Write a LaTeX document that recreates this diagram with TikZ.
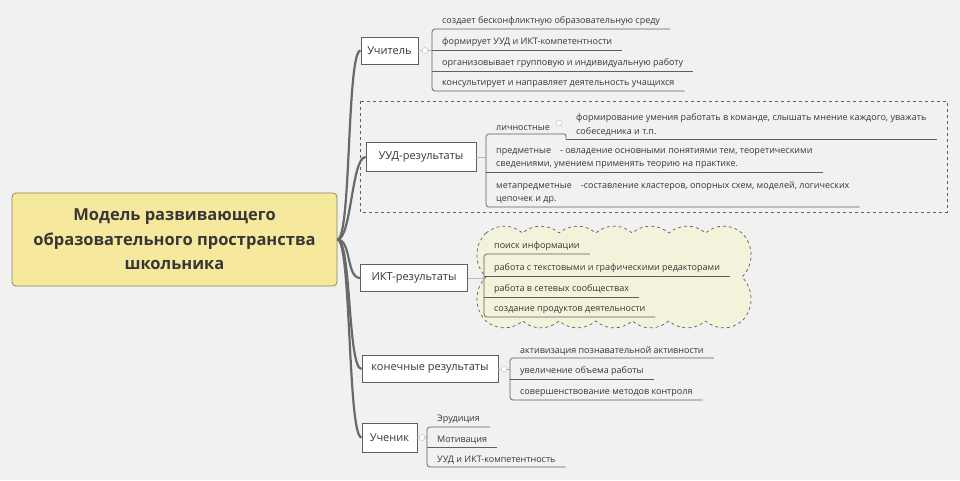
\documentclass[tikz,border=0pt]{standalone}
\usepackage{fontspec}
\setmainfont{Open Sans}
\usepackage{xcolor}
\definecolor{paper}{RGB}{241,241,241}
\definecolor{rootyellow}{RGB}{246,233,158}
\definecolor{rootedge}{RGB}{140,130,95}
\definecolor{inkgrey}{RGB}{55,55,55}
\definecolor{linegrey}{RGB}{95,95,95}
\definecolor{trunkgrey}{RGB}{105,105,105}
\definecolor{stubblue}{RGB}{170,190,205}
\definecolor{cloudcream}{RGB}{243,243,220}

\begin{document}
\begin{tikzpicture}[x=1pt, y=-1pt,
  root/.style={rectangle, rounded corners=4pt, draw=rootedge, fill=rootyellow, line width=0.8pt, minimum width=325pt, minimum height=93pt, align=center, text=inkgrey, font=\fontsize{16.5}{24.5}\selectfont\bfseries},
  topic/.style={rectangle, draw=linegrey, fill=white, line width=0.8pt, minimum height=27pt, inner xsep=6pt, text=inkgrey, font=\fontsize{11}{13}\selectfont},
  leaf/.style={anchor=south west, inner xsep=10pt, inner ysep=3pt, align=left, text=inkgrey, font=\fontsize{9}{13.5}\selectfont},
  uline/.style={draw=linegrey, line width=0.7pt},
  trunk/.style={draw=trunkgrey, line width=2.2pt},
  stub/.style={draw=stubblue, line width=0.8pt},
  marker/.style={circle, draw=stubblue, fill=white, inner sep=0pt, minimum size=6pt},
  frame/.style={draw=linegrey, dashed, line width=0.7pt},
  cloudbox/.style={draw=linegrey, dashed, fill=cloudcream, line width=0.7pt}
]
\useasboundingbox (0,0) rectangle (960,480);
\fill[paper] (0,0) rectangle (960,480);

% group frames
\draw[frame] (360,101) rectangle (947,212);
\draw[cloudbox] (486,233)
  \foreach \i in {1,...,7} { to[bend left=40] ++(36.57,0) }
  \foreach \i in {1,2} { to[bend left=45] ++(0,44) }
  \foreach \i in {1,...,7} { to[bend left=40] ++(-36.57,0) }
  \foreach \i in {1,2} { to[bend left=45] ++(0,-44) } -- cycle;

% main topics
\node[root] (root) at (174.5,239.5) {Модель развивающего\\образовательного пространства\\школьника};
\node[topic, minimum width=57pt] (teacher) at (389.5,50.5) {Учитель};
\node[topic, minimum width=110pt, minimum height=29pt] (uud) at (421,157) {УУД-результаты};
\node[topic, minimum width=107pt] (ikt) at (414,278) {ИКТ-результаты};
\node[topic, minimum width=136pt] (final) at (430,369) {конечные результаты};
\node[topic, minimum width=55pt, minimum height=29pt] (pupil) at (389.5,437.5) {Ученик};

% teacher
\node[leaf] (t1) at (432,29) {создает бесконфликтную образовательную среду};
\node[leaf] (t2) at (432,50) {формирует УУД и ИКТ-компетентности};
\node[leaf] (t3) at (432,71) {организовывает групповую и индивидуальную работу};
\node[leaf] (t4) at (432,91) {консультирует и направляет деятельность учащихся};

% UUD
\node[leaf] (u1) at (486,134) {личностные};
\node[leaf] (u1a) at (566,139) {формирование умения работать в команде, слышать мнение каждого, уважать\\собеседника и т.п.};
\node[leaf] (u2) at (486,172) {предметные\quad - овладение основными понятиями тем, теоретическими\\сведениями, умением применять теорию на практике.};
\node[leaf] (u3) at (486,207) {метапредметные\quad -составление кластеров, опорных схем, моделей, логических\\цепочек и др.};

% ICT
\node[leaf] (i1) at (484,254) {поиск информации};
\node[leaf] (i2) at (484,276) {работа с текстовыми и графическими редакторами};
\node[leaf] (i3) at (484,297) {работа в сетевых сообществах};
\node[leaf] (i4) at (484,317) {создание продуктов деятельности};

% final results
\node[leaf] (f1) at (510,358) {активизация познавательной активности};
\node[leaf] (f2) at (510,379) {увеличение объема работы};
\node[leaf] (f3) at (510,400) {совершенствование методов контроля};

% pupil
\node[leaf] (p1) at (427,427) {Эрудиция};
\node[leaf] (p2) at (427,447) {Мотивация};
\node[leaf] (p3) at (427,467) {УУД и ИКТ-компетентность};

% trunk
\foreach \t in {teacher,uud,ikt,final,pupil}
  \draw[trunk] (root.east) .. controls +(14,0) and +(-14,0) .. (\t.west);

% stubs to brackets
\draw[stub] (teacher.east) -- (teacher.east -| t1.south west);
\draw[stub] (uud.east) -- (uud.east -| u1.south west);
\draw[stub] (ikt.east) -- (ikt.east -| i1.south west);
\draw[stub] (final.east) -- (final.east -| f1.south west);
\draw[stub] (pupil.east) -- (pupil.east -| p1.south west);

% brackets
\draw[uline, rounded corners=3pt] (t1.south east) -- (t1.south west) -- (t4.south west) -- (t4.south east);
\draw[uline, rounded corners=3pt] (u1.south east) -- (u1.south west) -- (u3.south west) -- (u3.south east);
\draw[uline, rounded corners=3pt] (i1.south east) -- (i1.south west) -- (i4.south west) -- (i4.south east);
\draw[uline, rounded corners=3pt] (f1.south east) -- (f1.south west) -- (f3.south west) -- (f3.south east);
\draw[uline, rounded corners=3pt] (p1.south east) -- (p1.south west) -- (p3.south west) -- (p3.south east);
\foreach \n in {t2,t3,u1a,u2,i2,i3,f2,p2}
  \draw[uline] (\n.south west) -- (\n.south east);
\draw[uline, rounded corners=2pt] (u1.south east) -| (u1a.south west);

% collapse markers
\node[marker] (mkteach) at (425,50.5) {};
\node[marker] (mkpers) at (559,123) {};
\node[marker] (mkfin) at (504,369) {};
\node[marker] (mkpup) at (422,437.5) {};
\end{tikzpicture}
\end{document}
